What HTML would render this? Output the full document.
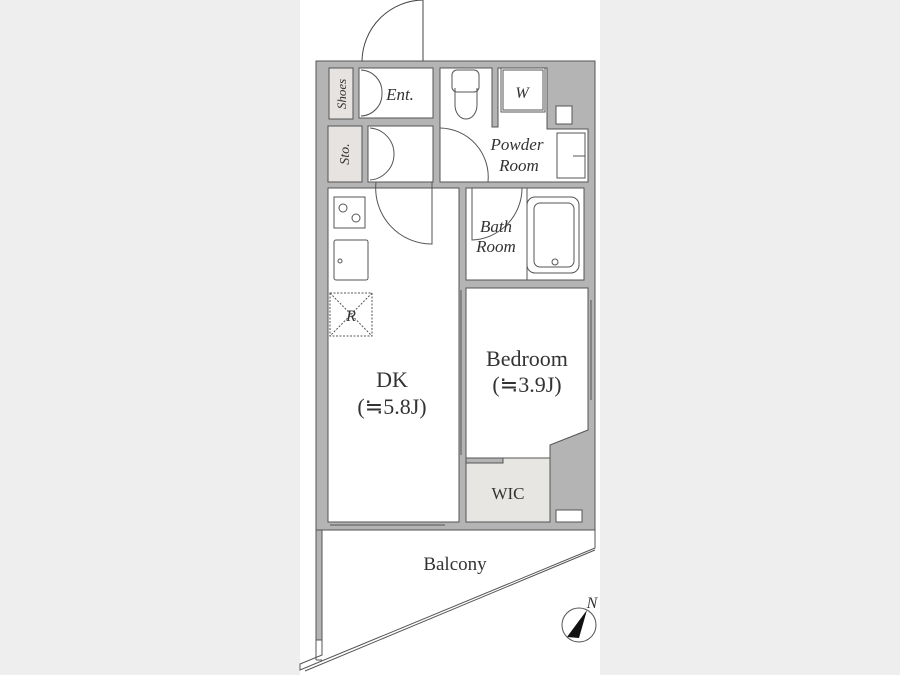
<!DOCTYPE html>
<html><head><meta charset="utf-8"><style>
html,body{margin:0;padding:0;width:900px;height:675px;overflow:hidden;background:#eeeeee}
svg{display:block}
text{font-family:"Liberation Serif",serif;fill:#333}
</style></head><body>
<svg width="900" height="675" viewBox="0 0 900 675">
<rect x="0" y="0" width="900" height="675" fill="#eeeeee"/>
<rect x="300" y="0" width="300" height="675" fill="#ffffff"/>
<path d="M362 61 A62 62 0 0 1 423 0" fill="none" stroke="#444" stroke-width="1"/>
<line x1="423" y1="0" x2="423" y2="61" stroke="#444"/>
<line x1="362" y1="61" x2="423" y2="61" stroke="#444"/>
<rect x="316" y="61" width="279" height="469" fill="#b4b4b4" stroke="#555" stroke-width="1"/>
<g stroke="#555" stroke-width="1">
<rect x="329" y="68" width="24" height="51" fill="#e6e3e0"/>
<rect x="359" y="68" width="74" height="50" fill="#fff"/>
<rect x="328" y="126" width="34" height="56" fill="#e6e3e0"/>
<rect x="368" y="126" width="65" height="56" fill="#fff"/>
<polygon points="440,68 492,68 492,127 498,127 498,68 547,68 547,129 588,129 588,182 440,182" fill="#fff"/>
<rect x="328" y="188" width="131" height="334" fill="#fff"/>
<rect x="466" y="188" width="118" height="92" fill="#fff"/>
<polygon points="466,288 588,288 588,430 550,445 550,458 466,458" fill="#fff"/>
<rect x="466" y="458" width="84" height="64" fill="#e8e6e3"/>
<rect x="556" y="510" width="26" height="12" fill="#fff"/>
<rect x="556" y="106" width="16" height="18" fill="#fff"/>
<rect x="466" y="458" width="37" height="5" fill="#b4b4b4"/>
<rect x="316" y="530" width="6" height="110" fill="#b4b4b4"/>
<polygon points="322,530 595,530 595,548 300,670 300,664 322,655" fill="#fff"/>
<line x1="316" y1="640" x2="316" y2="660"/>
<line x1="322" y1="660" x2="316" y2="660"/>
<line x1="305" y1="671" x2="595" y2="550"/>
</g>
<g fill="none" stroke="#555" stroke-width="1">
<path d="M361 70 A22 22 0 0 1 382 93 A22 22 0 0 1 361 116"/>
<path d="M370 128 A26 26 0 0 1 394 154 A26 26 0 0 1 370 180"/>
<path d="M376 182 A56 56 0 0 0 432 244 L432 182"/>
<path d="M440 128 A49 49 0 0 1 488 182"/>
<path d="M472 188 L472 240 A52 52 0 0 0 522 188"/>
<rect x="452" y="70" width="27" height="22" rx="5"/>
<path d="M455 88 L455 105 A11 14 0 0 0 477 105 L477 88"/>
<rect x="501" y="68" width="44" height="44"/>
<rect x="503" y="70" width="40" height="40"/>
<rect x="557" y="133" width="28" height="45"/>
<line x1="573" y1="156" x2="585" y2="156"/>
<rect x="334" y="197" width="31" height="31"/>
<circle cx="343" cy="208" r="4"/><circle cx="356" cy="218" r="4"/>
<rect x="334" y="240" width="34" height="40" rx="2"/>
<circle cx="340" cy="261" r="2"/>
<rect x="330" y="293" width="42" height="43" stroke-dasharray="2 1.5"/>
<line x1="330" y1="293" x2="372" y2="336" stroke-dasharray="2 1.5"/>
<line x1="372" y1="293" x2="330" y2="336" stroke-dasharray="2 1.5"/>
<rect x="527" y="197" width="52" height="76" rx="8"/>
<rect x="534" y="203" width="40" height="64" rx="6"/>
<circle cx="555" cy="262" r="3"/>
<line x1="527" y1="188" x2="527" y2="280"/>
<line x1="330" y1="525" x2="445" y2="525"/>
<line x1="461" y1="290" x2="461" y2="455"/>
<line x1="591" y1="300" x2="591" y2="400"/>
<circle cx="579" cy="625" r="17"/>
</g>
<polygon points="567,637 587,610 579,638" fill="#111"/>
<text x="346" y="94" font-size="13" transform="rotate(-90 346 94)" text-anchor="middle" font-style="italic">Shoes</text>
<text x="349" y="154" font-size="14" transform="rotate(-90 349 154)" text-anchor="middle" font-style="italic">Sto.</text>
<text x="400" y="100" font-size="17" text-anchor="middle" font-style="italic">Ent.</text>
<text x="522" y="98" font-size="16" text-anchor="middle" font-style="italic">W</text>
<text x="517" y="150" font-size="17" text-anchor="middle" font-style="italic">Powder</text>
<text x="519" y="171" font-size="17" text-anchor="middle" font-style="italic">Room</text>
<text x="496" y="232" font-size="17" text-anchor="middle" font-style="italic">Bath</text>
<text x="496" y="252" font-size="17" text-anchor="middle" font-style="italic">Room</text>
<text x="351" y="321" font-size="16" text-anchor="middle" font-style="italic">R</text>
<text x="392" y="387" font-size="22" text-anchor="middle">DK</text>
<text x="392" y="414" font-size="22" text-anchor="middle">(≒5.8J)</text>
<text x="527" y="366" font-size="22" text-anchor="middle">Bedroom</text>
<text x="527" y="392" font-size="22" text-anchor="middle">(≒3.9J)</text>
<text x="508" y="499" font-size="17" text-anchor="middle">WIC</text>
<text x="455" y="570" font-size="19" text-anchor="middle">Balcony</text>
<text x="592" y="608" font-size="16" text-anchor="middle" font-style="italic">N</text>
</svg>
</body></html>
